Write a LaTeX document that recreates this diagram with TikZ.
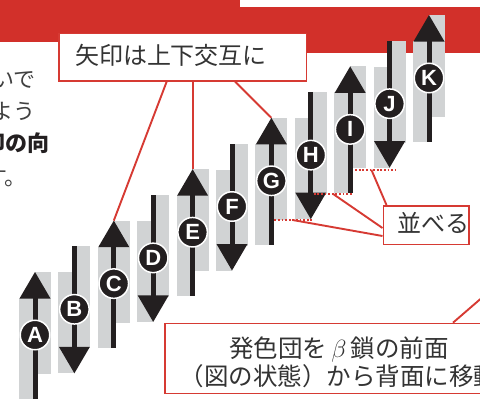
\documentclass[tikz,border=0pt]{standalone}
\usepackage{fontspec}
\setmainfont{Liberation Sans}
\newfontfamily\jp{Noto Sans CJK JP}
\newfontfamily\lab{Liberation Sans}
\usetikzlibrary{calc}
\definecolor{bred}{HTML}{D2302A}
\definecolor{lred}{HTML}{D63A33}
\definecolor{ink}{HTML}{231F20}
\definecolor{strandgray}{HTML}{D1D3D4}
\definecolor{txt}{HTML}{333333}
\definecolor{sidetxt}{HTML}{404040}
\begin{document}
\begin{tikzpicture}[x=1pt,y=-1pt,
  lbox/.style={draw=lred, fill=white, line width=1.6pt, rectangle, inner sep=0pt},
  jplabel/.style={text=txt, inner sep=0pt, font=\jp\fontsize{24}{28}\selectfont},
  sidetext/.style={text=sidetxt, inner sep=0pt, font=\jp\fontsize{22}{26}\selectfont},
  conn/.style={draw=lred, line width=1.9pt},
  dotline/.style={draw=lred, line width=1.8pt, dash pattern=on 1.8pt off 1.8pt},
  circ/.style={circle, fill=ink, draw=white, line width=1.5pt, minimum size=29.5pt, inner sep=0pt,
    text=white, font=\lab\bfseries\fontsize{22}{22}\selectfont}]
\useasboundingbox (0,0) rectangle (480,399);
\clip (0,0) rectangle (480,399);
% red banner
\fill[bred] (0,0) rectangle (240,41.7);
\fill[bred] (225,7.3) rectangle (480,52.7);
% cut-off paragraph on the left
\node[sidetext, anchor=east] (p1) at (36,80) {いで};
\node[sidetext, anchor=east] (p2) at (36,111) {よう};
\node[sidetext, anchor=east, text=ink, font=\jp\bfseries\fontsize{22}{26}\selectfont] (p3) at (50,143) {印の向};
\node[sidetext, anchor=east] (p4) at (27,177) {す。};
% strands
\foreach \i/\L/\d in {0/A/u,1/B/d,2/C/u,3/D/d,4/E/u,5/F/d,6/G/u,7/H/d,8/I/u,9/J/d,10/K/u}{
  \pgfmathsetmacro\x{35+39.4*\i}
  \pgfmathsetmacro\t{272-25.7*\i}
  \fill[strandgray] (\x-16,\t+26) rectangle (\x,\t+127);
  \fill[strandgray] (\x,\t) rectangle (\x+16,\t+102);
  \coordinate (\L-top) at (\x,\t);
  \coordinate (\L-bot) at (\x,\t+127);
  \if\d u
    \fill[ink] (\x-2.5,\t+25) rectangle (\x+2.5,\t+127);
    \fill[ink] (\x,\t) -- (\x+15.5,\t+26.5) -- (\x-15.5,\t+26.5) -- cycle;
  \else
    \fill[ink] (\x-2.5,\t) rectangle (\x+2.5,\t+102);
    \fill[ink] (\x,\t+127) -- (\x+15.5,\t+100.5) -- (\x-15.5,\t+100.5) -- cycle;
  \fi
  \node[circ] (\L) at (\x,\t+63) {\L};
}
% dotted alignment lines
\coordinate (gh1) at ($(G-top|-H-bot)+(3,1)$);
\coordinate (gh2) at ($(H-bot)+(1,1)$);
\coordinate (hi1) at ($(H-top|-I-bot)+(3,0.5)$);
\coordinate (hi2) at ($(I-bot)+(2,0.5)$);
\coordinate (ij1) at ($(I-top|-J-bot)+(5,2)$);
\coordinate (ij2) at ($(J-bot)+(6,2)$);
\draw[dotline] (gh1) -- (gh2);
\draw[dotline] (hi1) -- (hi2);
\draw[dotline] (ij1) -- (ij2);
\coordinate (ghm) at ($(gh1)!0.5!(gh2)$);
\coordinate (him) at ($(hi1)!0.5!(hi2)$);
\coordinate (ijm) at ($(ij1)!0.4!(ij2)$);
% label boxes
\node[lbox, minimum width=247.4pt, minimum height=47.3pt, anchor=north west] (box1) at (58.3,32.7) {};
\node[jplabel] (box1t) at (171,55) {矢印は上下交互に};
\node[lbox, minimum width=85.8pt, minimum height=38.5pt, anchor=north west] (box2) at (382.5,205) {};
\node[jplabel] (box2t) at (433,223) {並べる};
\node[lbox, minimum width=360pt, minimum height=70pt, anchor=north west] (box3) at (164,322.7) {};
\node[jplabel, font=\jp\fontsize{24.5}{28}\selectfont] (box3a) at (339,350) {発色団を\,$\beta$\,鎖の前面};
\node[jplabel, font=\jp\fontsize{24.5}{28}\selectfont] (box3b) at (339,376) {（図の状態）から背面に移動};
% connectors
\draw[conn] ($(box1.south west)+(108.4,0)$) -- (C-top);
\draw[conn] (box1.south -| E-top) -- (E-top);
\draw[conn] ($(box1.south west)+(176.7,0)$) -- (G-top);
\draw[conn] (ghm) -- ($(box2.north west)+(0,31)$);
\draw[conn] (him) -- ($(box2.north west)+(0,23)$);
\draw[conn] (ijm) -- ($(box2.north west)+(4,0)$);
\coordinate (offpage) at (492,289);
\draw[conn] ($(box3.north west)+(289,0)$) -- (offpage);
\end{tikzpicture}
\end{document}
